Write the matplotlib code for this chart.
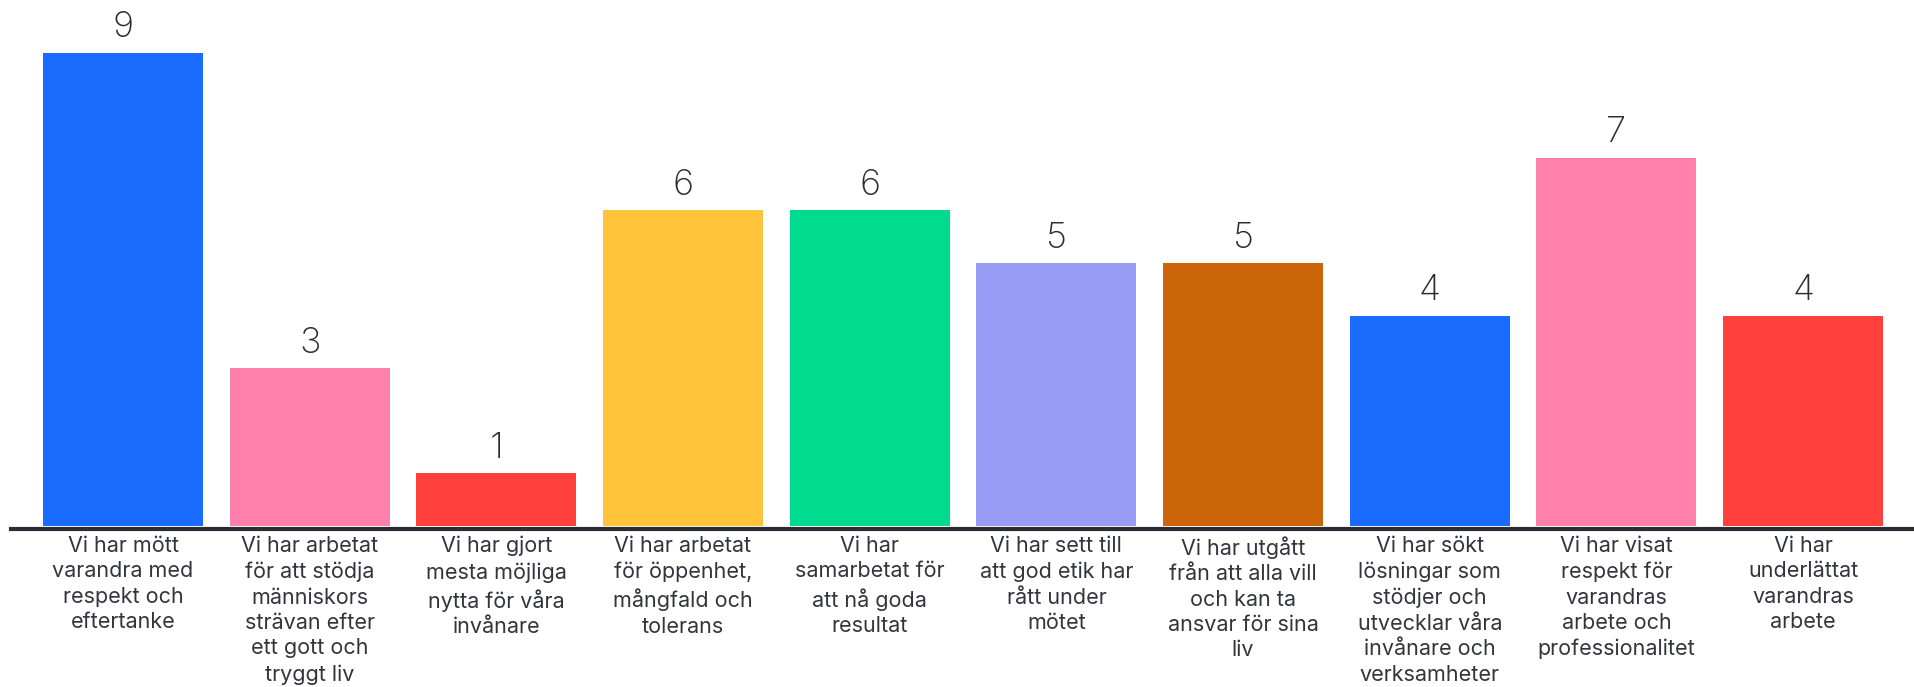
import matplotlib
matplotlib.use("Agg")
import matplotlib.pyplot as plt

plt.rcParams["font.family"] = ["Inter", "DejaVu Sans"]

LABELS = [
    "Vi har mött\nvarandra med\nrespekt och\neftertanke",
    "Vi har arbetat\nför att stödja\nmänniskors\nsträvan efter\nett gott och\ntryggt liv",
    "Vi har gjort\nmesta möjliga\nnytta för våra\ninvånare",
    "Vi har arbetat\nför öppenhet,\nmångfald och\ntolerans",
    "Vi har\nsamarbetat för\natt nå goda\nresultat",
    "Vi har sett till\natt god etik har\nrått under\nmötet",
    "Vi har utgått\nfrån att alla vill\noch kan ta\nansvar för sina\nliv",
    "Vi har sökt\nlösningar som\nstödjer och\nutvecklar våra\ninvånare och\nverksamheter",
    "Vi har visat\nrespekt för\nvarandras\narbete och\nprofessionalitet",
    "Vi har\nunderlättat\nvarandras\narbete",
]
VALUES = [9, 3, 1, 6, 6, 5, 5, 4, 7, 4]
COLORS = ["#196cff", "#ff80ab", "#ff403d", "#ffc43a", "#00db8f",
          "#989cf5", "#cc640a", "#196cff", "#ff80ab", "#ff403d"]

W, H = 1914, 687
fig = plt.figure(figsize=(W / 100, H / 100), dpi=100)
ax = fig.add_axes([0, 161 / H, 1, 526 / H])

x = list(range(len(VALUES)))
bars = ax.bar(x, VALUES, width=0.857, color=COLORS, zorder=2)
for rect, v in zip(bars, VALUES):
    ax.annotate(str(v), (rect.get_x() + rect.get_width() / 2, v),
                xytext=(0, 6), textcoords="offset points",
                ha="center", va="bottom", fontsize=26, fontweight="light",
                color="#2b2d33")

ax.set_xlim(-0.659, 9.594)
ax.set_ylim(0, 10)
for s in ["top", "left", "right"]:
    ax.spines[s].set_visible(False)
ax.spines["bottom"].set_position(("outward", 2.2))
ax.spines["bottom"].set_linewidth(3)
ax.spines["bottom"].set_color("#2b2d33")
ax.spines["bottom"].set_bounds(-0.6, 9.594)
ax.set_yticks([])
ax.set_xticks(x)
ax.set_xticklabels(LABELS, fontsize=15.5, color="#33353b", linespacing=1.34)
ax.tick_params(axis="x", length=0, pad=5)

fig.savefig("out.png", dpi=100)
